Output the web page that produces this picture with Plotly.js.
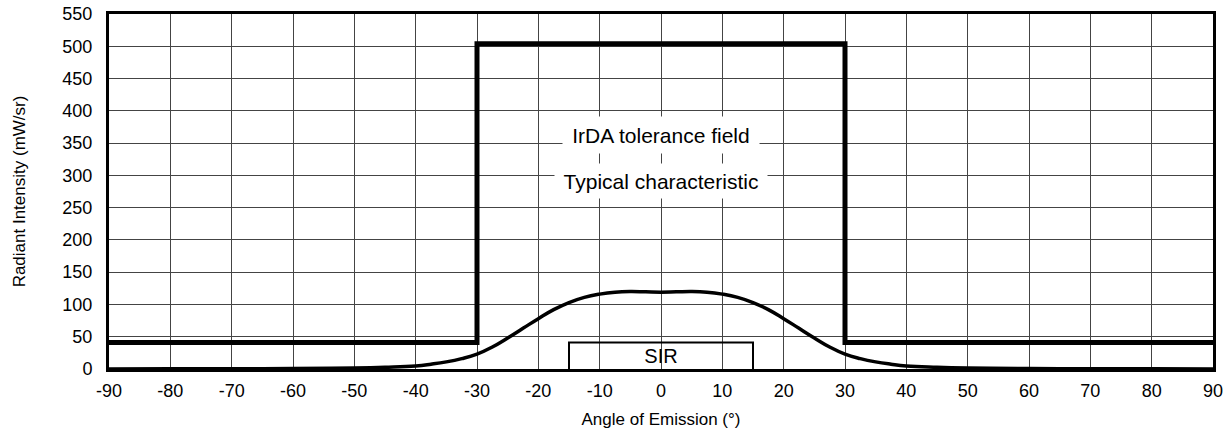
<!DOCTYPE html>
<html><head><meta charset="utf-8">
<script src="https://cdn.plot.ly/plotly-3.0.1.min.js"></script>
<style>body{margin:0;background:#fff}#c{width:1225px;height:432px}</style>
</head><body><div id="c"></div>
<script>
// IrDA tolerance field
const tolX = [-90, -30, -30, 30, 30, 90];
const tolY = [41, 41, 504, 504, 41, 41];
// Typical characteristic
const typX = [-90, -80, -70, -60, -50, -45, -40, -37.5, -35, -32.5, -30, -27.5, -25, -22.5, -20, -17.5, -15, -12.5, -10, -7.5, -5, -2.5, 0,
              2.5, 5, 7.5, 10, 12.5, 15, 17.5, 20, 22.5, 25, 27.5, 30, 32.5, 35, 37.5, 40, 45, 50, 60, 70, 80, 90];
const typY = [0, 0.2, 0.4, 0.8, 1.7, 2.8, 4.8, 7.5, 11, 16, 23, 34, 48, 63, 78, 92, 103, 111, 116, 119, 120, 119.5, 119,
              119.5, 120, 119, 116, 111, 103, 92, 78, 63, 48, 34, 23, 16, 11, 7.5, 4.8, 2.8, 1.7, 0.8, 0.4, 0.2, 0];
// SIR box
const sirX = [-15, -15, 15, 15];
const sirY = [0, 41, 41, 0];
// tick labels
const xTicks = [-90, -80, -70, -60, -50, -40, -30, -20, -10, 0, 10, 20, 30, 40, 50, 60, 70, 80, 90];
const xTickText = ['-90', '-80', '-70', '-60', '-50', '-40', '-30', '-20', '-10', '0', '10', '20', '30', '40', '50', '60', '70', '80', '90'];
const yTicks = [0, 50, 100, 150, 200, 250, 300, 350, 400, 450, 500, 550];
const labels = [
  {text: 'IrDA tolerance field', x: 0, y: 363, w: 196, h: 36, bg: '#fff', size: 21},
  {text: 'Typical characteristic', x: 0, y: 292, w: 212, h: 34, bg: '#fff', size: 21},
  {text: 'SIR', x: 0, y: 20, w: 50, h: 24, bg: 'rgba(0,0,0,0)', size: 20}
];
const font = 'Liberation Sans, Arial, Helvetica, sans-serif';
const traces = [
  {x: sirX, y: sirY, mode: 'lines', line: {color: '#000', width: 2}},
  {x: typX, y: typY, mode: 'lines', line: {color: '#000', width: 3.5, shape: 'spline', smoothing: 1.3}},
  {x: tolX, y: tolY, mode: 'lines', line: {color: '#000', width: 5}}
];
const layout = {
  width: 1225, height: 432,
  margin: {l: 109, r: 12, t: 14, b: 63},
  paper_bgcolor: '#fff', plot_bgcolor: '#fff',
  showlegend: false,
  font: {family: font, color: '#000', size: 18},
  xaxis: {
    range: [-90, 90], tickmode: 'array', tickvals: xTicks, ticktext: xTickText, zeroline: false,
    showgrid: true, gridcolor: '#444', gridwidth: 1,
    showline: true, linecolor: '#000', linewidth: 3, mirror: true,
    ticks: '', tickfont: {size: 18, family: font}, ticklabelstandoff: 3,
    title: {text: 'Angle of Emission (°)', font: {size: 17, family: font}, standoff: 14}
  },
  yaxis: {
    range: [0, 550], tickmode: 'array', tickvals: yTicks, zeroline: false,
    showgrid: true, gridcolor: '#444', gridwidth: 1,
    showline: true, linecolor: '#000', linewidth: 3, mirror: true,
    ticks: '', tickfont: {size: 18, family: font}, ticklabelstandoff: 10,
    title: {text: 'Radiant Intensity (mW/sr)', font: {size: 17, family: font}, standoff: 33}
  },
  annotations: labels.map(l => ({
    x: l.x, y: l.y, xref: 'x', yref: 'y', text: l.text, showarrow: false,
    font: {size: l.size, family: font, color: '#000'},
    bgcolor: l.bg, borderpad: 0, width: l.w, height: l.h
  }))
};
Plotly.newPlot('c', traces, layout, {displayModeBar: false, staticPlot: true});
</script></body></html>
